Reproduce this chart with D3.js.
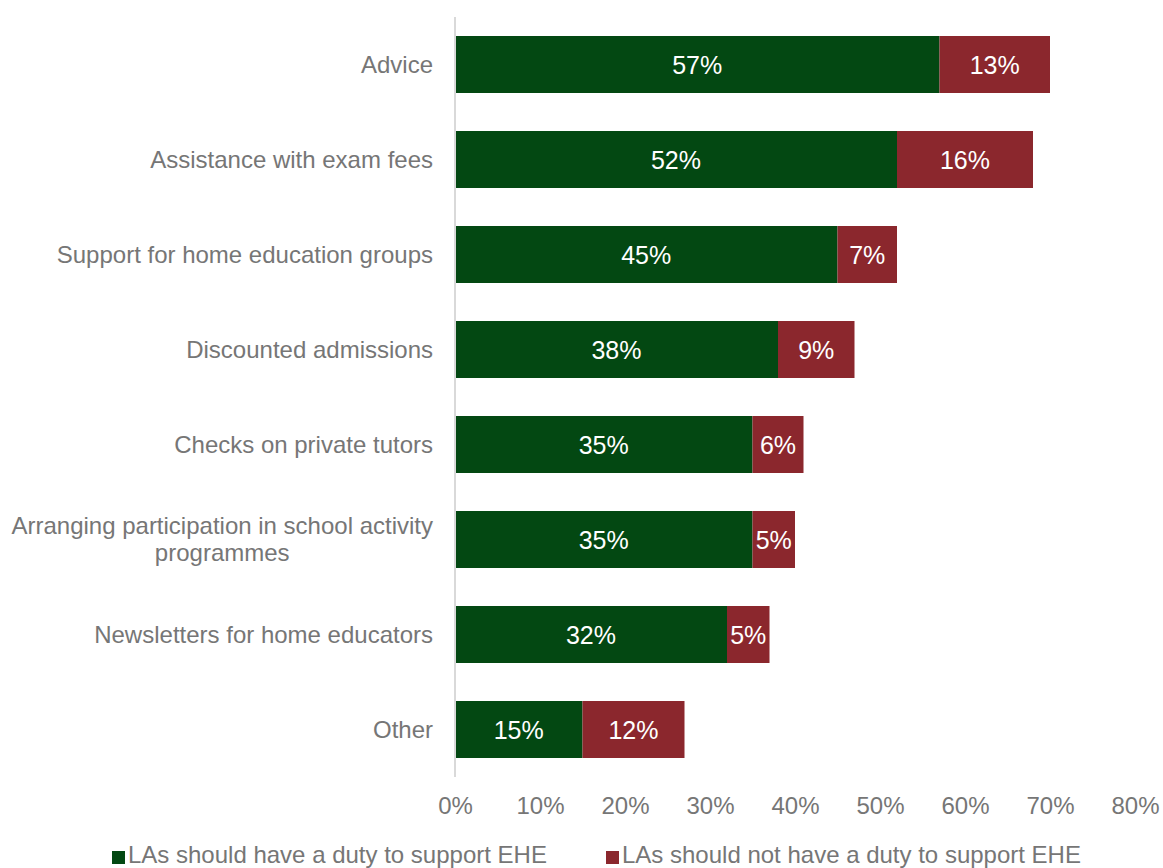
<!DOCTYPE html>
<html>
<head>
<meta charset="utf-8">
<script src="https://cdn.jsdelivr.net/npm/d3@7"></script>
<style>
  html, body { margin: 0; padding: 0; background: #fff; }
  svg { display: block; font-family: "Liberation Sans", Arial, sans-serif; }
</style>
</head>
<body>
<svg id="chart" width="1163" height="868"></svg>
<script>
// Support activities and share of respondents by view on LA duty
const categories = [
  "Advice",
  "Assistance with exam fees",
  "Support for home education groups",
  "Discounted admissions",
  "Checks on private tutors",
  "Arranging participation in school activity programmes",
  "Newsletters for home educators",
  "Other"
];
const shouldHaveDuty = [57, 52, 45, 38, 35, 35, 32, 15];
const shouldNotHaveDuty = [13, 16, 7, 9, 6, 5, 5, 12];
const seriesNames = [
  "LAs should have a duty to support EHE",
  "LAs should not have a duty to support EHE"
];
const xTicks = [0, 10, 20, 30, 40, 50, 60, 70, 80];

const colors = ["#034812", "#8B272D"];
const textGray = "#767676";
const fontSize = 24;

const svg = d3.select("#chart");
const margin = { left: 455, right: 28, top: 17, bottom: 91 };
const W = 1163, H = 868;

const x = d3.scaleLinear().domain([0, 80]).range([margin.left, W - margin.right]);
const y = d3.scaleBand().domain(categories).range([margin.top, H - margin.bottom]).paddingInner(0.4).paddingOuter(0.2);

const rows = categories.map((c, i) => ({
  cat: c,
  segs: [
    { s: 0, x0: 0, v: shouldHaveDuty[i] },
    { s: 1, x0: shouldHaveDuty[i], v: shouldNotHaveDuty[i] }
  ]
}));

// bars
const g = svg.append("g");
rows.forEach(r => {
  r.segs.forEach(seg => {
    g.append("rect")
      .attr("x", x(seg.x0))
      .attr("y", y(r.cat))
      .attr("width", x(seg.x0 + seg.v) - x(seg.x0))
      .attr("height", y.bandwidth())
      .attr("fill", colors[seg.s]);
    g.append("text")
      .attr("x", (x(seg.x0) + x(seg.x0 + seg.v)) / 2)
      .attr("y", y(r.cat) + y.bandwidth() / 2)
      .attr("dy", "0.36em")
      .attr("text-anchor", "middle")
      .attr("fill", "#fff")
      .attr("font-size", 25)
      .text(seg.v + "%");
  });
});

// vertical axis line
svg.append("line")
  .attr("x1", x(0)).attr("x2", x(0))
  .attr("y1", margin.top).attr("y2", H - margin.bottom)
  .attr("stroke", "#D9D9D9").attr("stroke-width", 2);

// category labels, wrapped lines centred within a right-aligned block
const labelRight = 433;
const wrapWidth = 430;
categories.forEach(c => {
  const words = c.split(" ");
  const lines = [];
  let cur = "";
  const probe = svg.append("text").attr("font-size", fontSize).style("visibility", "hidden");
  words.forEach(w => {
    const t = cur ? cur + " " + w : w;
    probe.text(t);
    if (probe.node().getComputedTextLength() > wrapWidth && cur) {
      lines.push(cur);
      cur = w;
    } else cur = t;
  });
  lines.push(cur);
  const widths = lines.map(l => { probe.text(l); return probe.node().getComputedTextLength(); });
  probe.remove();
  const maxW = d3.max(widths);
  const cx = labelRight - maxW / 2;
  const cy = y(c) + y.bandwidth() / 2;
  const lh = 27;
  lines.forEach((l, k) => {
    svg.append("text")
      .attr("x", lines.length > 1 ? cx : labelRight)
      .attr("y", cy + (k - (lines.length - 1) / 2) * lh)
      .attr("dy", "0.35em")
      .attr("text-anchor", lines.length > 1 ? "middle" : "end")
      .attr("fill", textGray)
      .attr("font-size", fontSize)
      .text(l);
  });
});

// x axis tick labels
const xAxis = d3.axisBottom(x).tickValues(xTicks).tickFormat(d => d + "%").tickSize(0).tickPadding(0);
const ax = svg.append("g").attr("transform", `translate(0, ${H - margin.bottom})`).call(xAxis);
ax.select(".domain").remove();
ax.selectAll("text")
  .attr("font-size", fontSize)
  .attr("fill", textGray)
  .attr("font-family", "Liberation Sans, Arial, sans-serif")
  .attr("y", 29)
  .attr("dy", "0.35em");

// legend
const legendX = [112, 606];
seriesNames.forEach((n, i) => {
  svg.append("rect")
    .attr("x", legendX[i]).attr("y", 851)
    .attr("width", 13).attr("height", 13)
    .attr("fill", colors[i]);
  svg.append("text")
    .attr("x", legendX[i] + 16).attr("y", 863)
    .attr("fill", textGray)
    .attr("font-size", fontSize)
    .text(n);
});
</script>
</body>
</html>
